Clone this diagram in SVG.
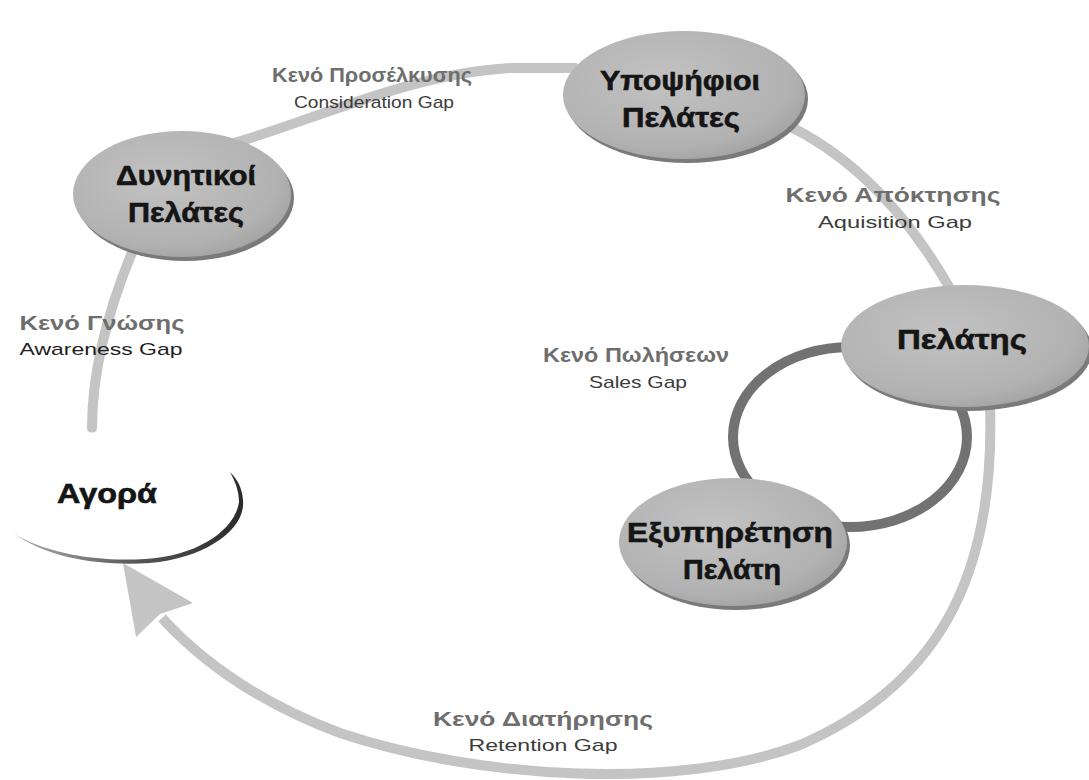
<svg xmlns="http://www.w3.org/2000/svg" width="1089" height="780" viewBox="0 0 1089 780">
  <defs>
    <radialGradient id="nodeFill" cx="42%" cy="38%" r="65%">
      <stop offset="0" stop-color="#c2c2c2"/>
      <stop offset="0.8" stop-color="#b2b2b2"/>
      <stop offset="1" stop-color="#a4a4a4"/>
    </radialGradient>
    <linearGradient id="rimFill" x1="0" y1="0" x2="1" y2="0">
      <stop offset="0" stop-color="#b0b0b0"/>
      <stop offset="0.55" stop-color="#555"/>
      <stop offset="1" stop-color="#2a2a2a"/>
    </linearGradient>
  </defs>
  <style>
    .flow { fill: none; stroke: #c4c4c4; stroke-width: 10; stroke-linecap: round; }
    .loop { fill: none; stroke: #727272; stroke-width: 10; }
    .shadow { fill: #7a7a7a; }
    .body { fill: url(#nodeFill); }
    .name { font-family: "Liberation Sans", Arial, sans-serif; font-weight: bold; font-size: 28px; fill: #151515; stroke: #151515; stroke-width: 0.6; text-anchor: middle; }
    .gap { font-family: "Liberation Sans", Arial, sans-serif; font-weight: bold; font-size: 21px; fill: #6e6e6e; text-anchor: middle; }
    .gap-en { font-family: "Liberation Sans", Arial, sans-serif; font-size: 17px; fill: #3c3c3c; text-anchor: middle; }
  </style>

  <rect width="1089" height="780" fill="#ffffff"/>

  <!-- connectors -->
  <g id="connectors">
    <path class="flow" d="M92,428 C92,375 106,315 133,250"/>
    <path class="flow" d="M234,143 C320,118 410,74 510,68 L575,68"/>
    <path class="flow" d="M785,124 C840,150 900,200 952,292"/>
    <path class="flow" style="stroke-linecap:butt" d="M990,405 C995,560 950,680 800,745 C680,790 480,780 340,733 C265,705 205,665 162,618"/>
    <polygon fill="#c4c4c4" points="123,563 193,603 160,614 136,637"/>
    <ellipse class="loop" cx="850" cy="437" rx="117" ry="90"/>
  </g>

  <!-- labels on the connectors -->
  <g id="gap-labels">
    <text class="gap" x="372" y="82" textLength="200" lengthAdjust="spacingAndGlyphs">Κενό Προσέλκυσης</text>
    <text class="gap-en" x="374" y="108" textLength="160" lengthAdjust="spacingAndGlyphs">Consideration Gap</text>
    <text class="gap" x="893" y="202" textLength="215" lengthAdjust="spacingAndGlyphs">Κενό Απόκτησης</text>
    <text class="gap-en" x="895" y="228" textLength="154" lengthAdjust="spacingAndGlyphs">Aquisition Gap</text>
    <text class="gap" x="102" y="330" textLength="165" lengthAdjust="spacingAndGlyphs">Κενό Γνώσης</text>
    <text class="gap-en" x="101" y="355" textLength="163" lengthAdjust="spacingAndGlyphs" style="fill:#1e1e1e">Awareness Gap</text>
    <text class="gap" x="636" y="362" textLength="186" lengthAdjust="spacingAndGlyphs">Κενό Πωλήσεων</text>
    <text class="gap-en" x="638" y="388" textLength="98" lengthAdjust="spacingAndGlyphs">Sales Gap</text>
    <text class="gap" x="543" y="726" textLength="220" lengthAdjust="spacingAndGlyphs">Κενό Διατήρησης</text>
    <text class="gap-en" x="543" y="751" textLength="149" lengthAdjust="spacingAndGlyphs">Retention Gap</text>
  </g>

  <!-- nodes -->
  <g id="node-market">
    <ellipse cx="125" cy="495" rx="118" ry="65" fill="#ffffff"/>
    <path fill="url(#rimFill)" d="M13,533 C50,560 105,566 150,563 C205,558 246,530 243,500 C242,487 237,479 230,472 C235,481 239,491 239,502 C235,530 198,556 145,559 C95,562 45,553 13,533 Z"/>
    <text class="name" x="107" y="503" textLength="100" lengthAdjust="spacingAndGlyphs">Αγορά</text>
  </g>

  <g id="node-potential">
    <ellipse class="shadow" cx="185" cy="198" rx="109" ry="63"/>
    <ellipse class="body" cx="182" cy="194" rx="109" ry="63"/>
    <text class="name" x="186" y="185" textLength="140" lengthAdjust="spacingAndGlyphs">Δυνητικοί</text>
    <text class="name" x="186" y="222" textLength="116" lengthAdjust="spacingAndGlyphs">Πελάτες</text>
  </g>

  <g id="node-prospects">
    <ellipse class="shadow" cx="687" cy="99" rx="121" ry="64"/>
    <ellipse class="body" cx="684" cy="95" rx="121" ry="64"/>
    <text class="name" x="680" y="90" textLength="160" lengthAdjust="spacingAndGlyphs">Υποψήφιοι</text>
    <text class="name" x="681" y="127" textLength="118" lengthAdjust="spacingAndGlyphs">Πελάτες</text>
  </g>

  <g id="node-customer">
    <ellipse class="shadow" cx="968" cy="350" rx="124" ry="61"/>
    <ellipse class="body" cx="965" cy="346" rx="124" ry="61"/>
    <text class="name" x="962" y="349" textLength="130" lengthAdjust="spacingAndGlyphs">Πελάτης</text>
  </g>

  <g id="node-service">
    <ellipse class="shadow" cx="736" cy="546" rx="114" ry="64"/>
    <ellipse class="body" cx="733" cy="542" rx="114" ry="64"/>
    <text class="name" x="730" y="542" textLength="206" lengthAdjust="spacingAndGlyphs">Εξυπηρέτηση</text>
    <text class="name" x="732" y="579" textLength="98" lengthAdjust="spacingAndGlyphs">Πελάτη</text>
  </g>
</svg>
